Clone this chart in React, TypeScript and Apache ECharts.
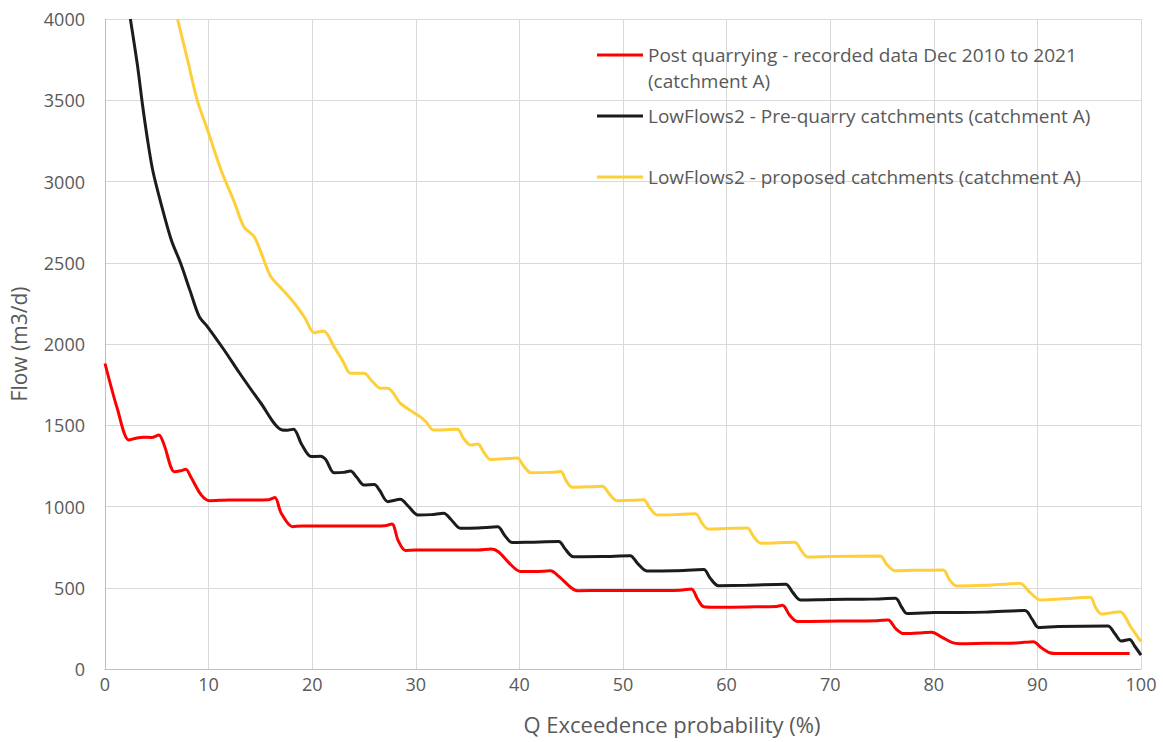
import React, { useEffect, useRef } from "react";
import * as echarts from "echarts";

const xTicks = [0, 10, 20, 30, 40, 50, 60, 70, 80, 90, 100];
const yTicks = [0, 500, 1000, 1500, 2000, 2500, 3000, 3500, 4000];

const xTitle = "Q Exceedence probability (%)";
const yTitle = "Flow (m3/d)";

const seriesNames = [
  "Post quarrying - recorded data Dec 2010 to 2021",
  "LowFlows2 - Pre-quarry catchments (catchment A)",
  "LowFlows2 - proposed catchments (catchment A)",
];

const postQuarrying: [number, number][] = [
  [0, 1880], [1.2, 1600], [2.3, 1410], [3.0, 1420], [3.7, 1426], [4.5, 1425], [5.2, 1440],
  [5.7, 1380], [6.7, 1214], [7.3, 1220], [7.8, 1229], [8.3, 1180], [9.3, 1070], [10.1, 1036],
  [12, 1040], [14, 1040], [15.8, 1042], [16.4, 1055], [17.0, 960], [18.1, 876], [19, 880],
  [22, 880], [25, 880], [27, 882], [27.7, 892], [28.3, 790], [29.0, 730], [30, 732], [33, 732],
  [36, 732], [37.3, 738], [38.0, 720], [39.2, 640], [40.1, 600], [41.5, 600], [43.0, 604],
  [43.8, 570], [45.0, 500], [45.6, 482], [48, 483], [52, 483], [55.5, 485], [56.6, 492],
  [57.2, 430], [57.8, 383], [59, 380], [62, 382], [64.8, 385], [65.4, 392], [66.1, 330],
  [66.8, 293], [68, 293], [71, 295], [74.5, 297], [75.6, 302], [76.3, 250], [77.1, 218],
  [78.5, 222], [79.8, 226], [80.8, 195], [81.8, 162], [82.5, 156], [85, 158], [88, 160],
  [89.6, 168], [90.4, 130], [91.2, 100], [92, 95], [95, 95], [98.9, 95],
];

const preQuarry: [number, number][] = [
  [2.45, 4000], [3.15, 3707], [3.6, 3482], [4.1, 3260], [4.6, 3071], [5.4, 2866], [6.4, 2640],
  [7.3, 2497], [8.2, 2330], [9.1, 2168], [9.9, 2106], [11.5, 1963], [13, 1820], [15, 1640],
  [17.1, 1471], [17.6, 1470], [18.2, 1475], [19.0, 1380], [19.9, 1307], [20.8, 1310],
  [21.3, 1290], [22.1, 1208], [23.0, 1210], [23.7, 1218], [24.3, 1180], [25.0, 1132],
  [26.0, 1135], [26.5, 1100], [27.3, 1030], [28.5, 1044], [29.3, 1000], [30.2, 948],
  [31.5, 950], [32.7, 958], [33.4, 920], [34.3, 866], [36, 868], [37.9, 875], [38.6, 820],
  [39.3, 778], [41, 780], [43.8, 784], [44.4, 740], [45.2, 691], [48, 692], [50.7, 697],
  [51.4, 650], [52.3, 603], [55, 605], [57.8, 612], [58.4, 560], [59.2, 513], [62, 515],
  [65.7, 522], [66.4, 470], [67.1, 425], [70, 428], [74, 430], [76.3, 436], [76.9, 380],
  [77.4, 342], [80, 347], [85, 350], [88.8, 360], [89.5, 305], [90.1, 256], [92, 262],
  [96.8, 265], [97.5, 215], [98.1, 172], [98.9, 182], [99.4, 140], [100, 86],
];

const proposed: [number, number][] = [
  [7.0, 4000], [8.0, 3740], [8.9, 3501], [9.9, 3317], [11.2, 3071], [12.5, 2870],
  [13.4, 2722], [14.4, 2660], [15.2, 2540], [16.0, 2415], [17.2, 2330], [18.3, 2249],
  [19.3, 2160], [20.2, 2070], [21.1, 2080], [22.1, 1984], [23.0, 1890], [23.7, 1820],
  [25.0, 1820], [25.8, 1770], [26.6, 1728], [27.3, 1728], [28.5, 1636], [29.5, 1590],
  [30.4, 1553], [31.0, 1520], [31.7, 1471], [34.0, 1475], [34.6, 1420], [35.3, 1378],
  [36.0, 1385], [36.5, 1340], [37.2, 1290], [39.0, 1295], [39.8, 1298], [40.4, 1250],
  [41.1, 1208], [43, 1210], [44.0, 1215], [44.5, 1160], [45.1, 1118], [47, 1122],
  [48.0, 1125], [48.7, 1075], [49.4, 1036], [51, 1038], [52.0, 1042], [52.6, 990],
  [53.3, 948], [55, 950], [57.0, 955], [57.6, 900], [58.2, 862], [60, 865], [62.0, 868],
  [62.6, 815], [63.3, 774], [65, 777], [66.6, 780], [67.2, 730], [67.8, 690], [70, 692],
  [74.8, 695], [75.5, 640], [76.2, 605], [78, 607], [80.9, 610], [81.5, 550], [82.2, 511],
  [85, 515], [88.3, 527], [89.3, 470], [90.3, 425], [92.5, 432], [95.1, 441], [95.6, 380],
  [96.2, 338], [97.2, 347], [98.0, 353], [99.0, 260], [100, 168],
];

const colors = ["#FF0000", "#1C1C1C", "#FFCF3A"];
const FONT = "'Open Sans', sans-serif";
const TXT = "#595959";
const LEGEND_FONT = `19px ${FONT}`;

export default function App() {
  const ref = useRef<HTMLDivElement>(null);
  useEffect(() => {
    if (!ref.current) return;
    const chart = echarts.init(ref.current, null, { renderer: "svg" });
    const datasets = [postQuarrying, preQuarry, proposed];
    const legendY = [55, 116, 177];
    const graphics: any[] = [];
    legendY.forEach((y, i) => {
      graphics.push({
        type: "line",
        shape: { x1: 597, y1: y, x2: 643, y2: y },
        style: { stroke: colors[i], lineWidth: 3 },
        z: 10,
      });
    });
    const legendTexts: [string, number][] = [
      [seriesNames[0], 55],
      ["(catchment A)", 81],
      [seriesNames[1], 116],
      [seriesNames[2], 177],
    ];
    legendTexts.forEach(([t, y]) => {
      graphics.push({
        type: "text", x: 648, y,
        style: { text: t, fill: TXT, font: LEGEND_FONT, verticalAlign: "middle" }, z: 10,
      });
    });
    graphics.push({
      type: "text", x: 672, y: 724,
      style: {
        text: xTitle, fill: TXT, font: `22px ${FONT}`,
        textAlign: "center", verticalAlign: "middle",
      },
      z: 10,
    });

    chart.setOption({
      animation: false,
      backgroundColor: "#ffffff",
      grid: { left: 104, right: 22, top: 19, bottom: 73, containLabel: false },
      xAxis: {
        type: "value",
        min: xTicks[0],
        max: xTicks[xTicks.length - 1],
        interval: 10,
        axisLine: { show: true, lineStyle: { color: "#BFBFBF", width: 1 } },
        axisTick: { show: false },
        axisLabel: { color: TXT, fontFamily: FONT, fontSize: 18, margin: 6 },
        splitLine: { show: true, lineStyle: { color: "#D9D9D9", width: 1 } },
      },
      yAxis: {
        type: "value",
        min: yTicks[0],
        max: yTicks[yTicks.length - 1],
        interval: 500,
        name: yTitle,
        nameLocation: "middle",
        nameGap: 76,
        nameRotate: 90,
        nameTextStyle: { color: TXT, fontFamily: FONT, fontSize: 21 },
        axisLine: { show: true, lineStyle: { color: "#BFBFBF", width: 1 } },
        axisTick: { show: false },
        axisLabel: {
          color: TXT, fontFamily: FONT, fontSize: 18, margin: 20,
          formatter: (v: number) => String(v),
        },
        splitLine: { show: true, lineStyle: { color: "#D9D9D9", width: 1 } },
      },
      graphic: graphics,
      series: datasets.map((d, i) => ({
        name: seriesNames[i],
        type: "line",
        data: d,
        smooth: 0.3,
        showSymbol: false,
        symbol: "none",
        clip: true,
        lineStyle: { color: colors[i], width: 3 },
        z: 5 - i,
      })),
    });
    return () => chart.dispose();
  }, []);
  return (
    <div
      ref={ref}
      style={{ position: "fixed", left: 0, top: 0, width: 1163, height: 742 }}
    />
  );
}
